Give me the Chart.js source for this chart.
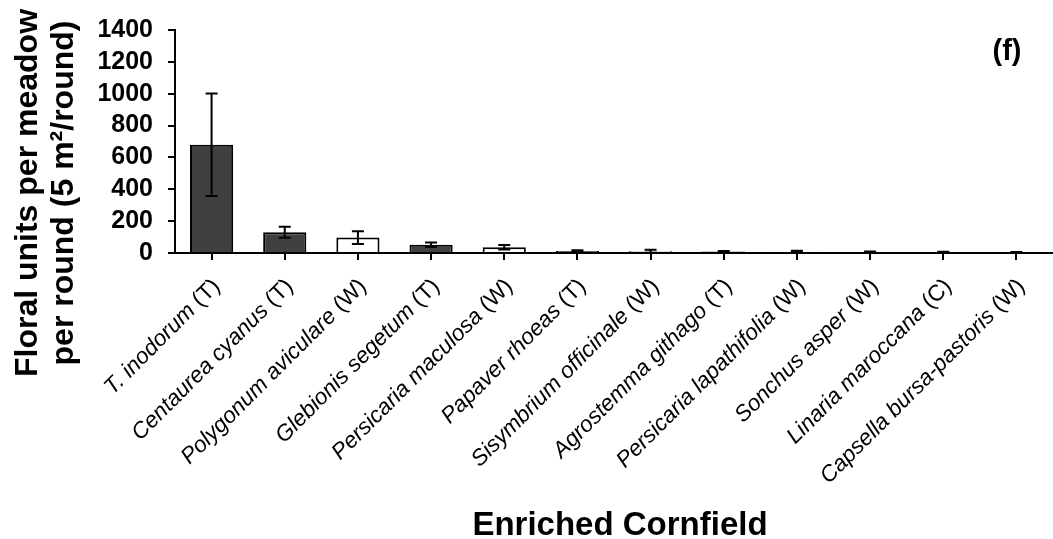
<!DOCTYPE html>
<html>
<head>
<meta charset="utf-8">
<script src="https://cdn.jsdelivr.net/npm/chart.js@4.4.1/dist/chart.umd.min.js"></script>
<style>
    html, body { margin: 0; padding: 0; background: #fff; }
    #wrap { width: 1053px; height: 539px; position: relative; }
</style>
</head>
<body>
<div id="wrap"><canvas id="chart"></canvas></div>
<script>
const species = [
    'T. inodorum', 'Centaurea cyanus', 'Polygonum aviculare', 'Glebionis segetum',
    'Persicaria maculosa', 'Papaver rhoeas', 'Sisymbrium officinale', 'Agrostemma githago',
    'Persicaria lapathifolia', 'Sonchus asper', 'Linaria maroccana', 'Capsella bursa-pastoris'
];
const groups = ['T', 'T', 'W', 'T', 'W', 'T', 'W', 'T', 'W', 'W', 'C', 'W'];
const means = [680, 130, 97, 52, 36, 12, 11, 9, 8, 6, 6, 5];
const errors = [322, 35, 40, 14, 14, 5, 9, 3, 6, 3, 2, 2];
const yTicks = [0, 200, 400, 600, 800, 1000, 1200, 1400];

const FONT = '"Liberation Sans", Arial, Helvetica, sans-serif';
const DARK = '#404040';

const errorBars = {
    id: 'errorBars',
    afterDatasetsDraw(chart) {
        const ctx = chart.ctx;
        const y = chart.scales.y;
        const meta = chart.getDatasetMeta(0);
        ctx.save();
        ctx.strokeStyle = '#000';
        ctx.lineWidth = 2;
        meta.data.forEach((bar, i) => {
            const top = y.getPixelForValue(means[i] + errors[i]);
            const bot = y.getPixelForValue(Math.max(0, means[i] - errors[i]));
            const cap = 6;
            ctx.beginPath();
            ctx.moveTo(bar.x, top); ctx.lineTo(bar.x, bot);
            ctx.moveTo(bar.x - cap, top); ctx.lineTo(bar.x + cap, top);
            ctx.moveTo(bar.x - cap, bot); ctx.lineTo(bar.x + cap, bot);
            ctx.stroke();
        });
        ctx.restore();
    }
};

const labelsAndTitles = {
    id: 'labelsAndTitles',
    afterDraw(chart) {
        const ctx = chart.ctx;
        const x = chart.scales.x;
        const area = chart.chartArea;
        ctx.save();
        ctx.fillStyle = '#000';

        // rotated species labels, name italic, group normal
        species.forEach((name, i) => {
            const px = x.getPixelForTick(i);
            const suffix = ' (' + groups[i] + ')';
            ctx.save();
            ctx.translate(px - 3, area.bottom + 22);
            ctx.rotate(-Math.PI / 4);
            ctx.textAlign = 'right';
            ctx.textBaseline = 'top';
            ctx.font = '22.5px ' + FONT;
            const w = ctx.measureText(suffix).width;
            ctx.fillText(suffix, 0, 0);
            ctx.font = 'italic 22.5px ' + FONT;
            ctx.fillText(name, -w, 0);
            ctx.restore();
        });

        // y axis title, two lines
        ctx.save();
        ctx.translate(0, 193);
        ctx.rotate(-Math.PI / 2);
        ctx.textAlign = 'center';
        ctx.textBaseline = 'alphabetic';
        ctx.font = 'bold 32px ' + FONT;
        ctx.fillText('Floral units per meadow', 0, 37);
        ctx.fillText('per round (5 m\u00B2/round)', 0, 73);
        ctx.restore();

        // x axis title
        ctx.textAlign = 'center';
        ctx.textBaseline = 'alphabetic';
        ctx.font = 'bold 33px ' + FONT;
        ctx.fillText('Enriched Cornfield', 620, 535);

        // panel letter
        ctx.font = 'bold 29px ' + FONT;
        ctx.fillText('(f)', 1007, 60);
        ctx.restore();
    }
};

const ctx = document.getElementById('chart').getContext('2d');
new Chart(ctx, {
    type: 'bar',
    data: {
        labels: species.map((s, i) => s + ' (' + groups[i] + ')'),
        datasets: [{
            data: means,
            backgroundColor: groups.map(g => g === 'W' ? '#ffffff' : DARK),
            borderColor: '#000',
            borderWidth: 2,
            barPercentage: 0.59,
            categoryPercentage: 1.0
        }]
    },
    options: {
        responsive: true,
        maintainAspectRatio: false,
        animation: false,
        layout: { padding: { top: 23, right: 0, bottom: 0, left: 0 } },
        plugins: {
            legend: { display: false },
            tooltip: { enabled: false }
        },
        scales: {
            x: {
                offset: true,
                grid: { display: true, offset: false, drawOnChartArea: false, drawTicks: true, tickLength: 7, color: '#000', lineWidth: 2 },
                border: { display: true, color: '#000', width: 2 },
                ticks: { display: false },
                afterFit(scale) { scale.height = 539 - 253; }
            },
            y: {
                min: 0,
                max: 1400,
                afterBuildTicks(scale) { scale.ticks = yTicks.map(v => ({ value: v })); },
                grid: { display: true, drawOnChartArea: false, drawTicks: true, tickLength: 7, color: '#000', lineWidth: 2 },
                border: { display: true, color: '#000', width: 2 },
                ticks: {
                    color: '#000',
                    padding: 15,
                    autoSkip: false,
                    font: { family: FONT, size: 25, weight: 'bold' },
                    callback: v => String(v)
                },
                afterFit(scale) { scale.width = 175; }
            }
        }
    },
    plugins: [errorBars, labelsAndTitles]
});
</script>
</body>
</html>
